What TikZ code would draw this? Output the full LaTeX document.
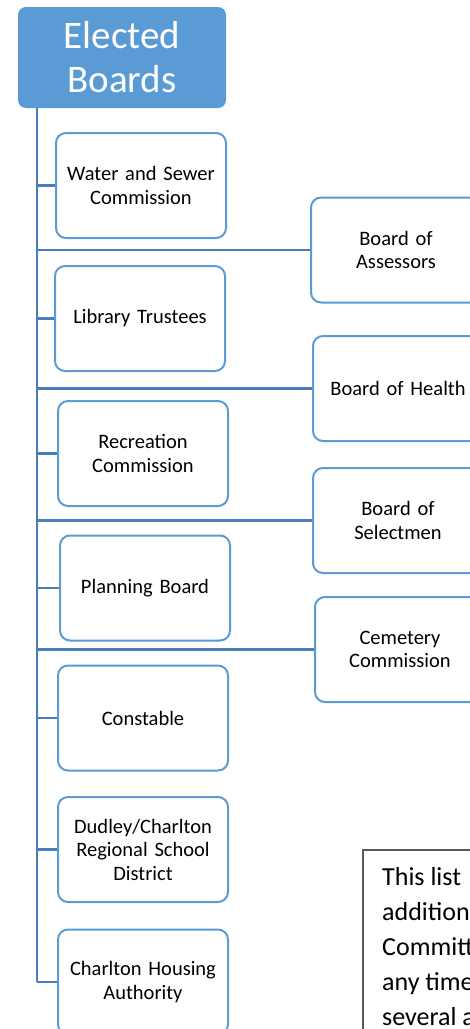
\documentclass[tikz,border=0pt]{standalone}
\usepackage{fontspec}
\setmainfont{Carlito}
\definecolor{boxblue}{HTML}{5B9BD5}
\definecolor{linkblue}{HTML}{4A7EBB}
\definecolor{notegray}{HTML}{595959}
\begin{document}
\begin{tikzpicture}[x=1pt,y=-1pt,
  unit/.style={draw=boxblue, line width=2pt, rounded corners=10pt, fill=white,
    minimum width=170pt, minimum height=105pt, inner sep=2pt, align=center,
    text width=166pt, font=\fontsize{20.5}{23.5}\selectfont},
  link/.style={draw=linkblue, line width=2.6pt},
  noteline/.style={anchor=base west, inner sep=0pt, font=\fontsize{26}{35}\selectfont}]
\clip (0,0) rectangle (470,1029);
\fill[white] (0,0) rectangle (470,1029);
% head
\node[fill=boxblue, rounded corners=8pt, minimum width=208pt, minimum height=101pt,
  text=white, align=center, inner sep=0pt, font=\fontsize{39}{44}\selectfont] (eb) at (122,57.5) {Elected\\Boards};
% trunk
\coordinate (ttop) at (37,108);
\coordinate (tbot) at (37,982);
% left boxes
\node[unit] (ws) at (141,185.5) {Water and Sewer\\Commission};
\node[unit] (lt) at (140,318.5) {Library Trustees};
\node[unit] (rc) at (143,453.5) {Recreation\\Commission};
\node[unit] (pb) at (145,588) {Planning Board};
\node[unit] (co) at (143,718) {Constable};
\node[unit] (ds) at (143,849.5) {Dudley/Charlton\\Regional School\\District};
\node[unit] (ch) at (143,982) {Charlton Housing\\Authority};
% right boxes
\node[unit] (ba) at (396,250) {Board of\\Assessors};
\node[unit] (bh) at (398,388.5) {Board of Health};
\node[unit] (bs) at (398,520.5) {Board of\\Selectmen};
\node[unit] (cc) at (400,649.5) {Cemetery\\Commission};
% connectors
\draw[link] (ttop) -- (tbot);
\foreach \n in {ws,lt,rc,pb,co,ds,ch,ba,bh,bs,cc}{
  \draw[link] (ttop |- \n.west) -- (\n.west);
}
% note
\node[draw=notegray, line width=1.5pt, anchor=north west, minimum width=200pt, minimum height=250pt, inner sep=0pt] (notebox) at (362,849) {};
\node[noteline] (n1) at (382,885) {This list};
\node[noteline] (n2) at (382,920) {addition};
\node[noteline] (n3) at (382,955) {Committ};
\node[noteline] (n4) at (382,990) {any time};
\node[noteline] (n5) at (382,1025) {several a};
\end{tikzpicture}
\end{document}
